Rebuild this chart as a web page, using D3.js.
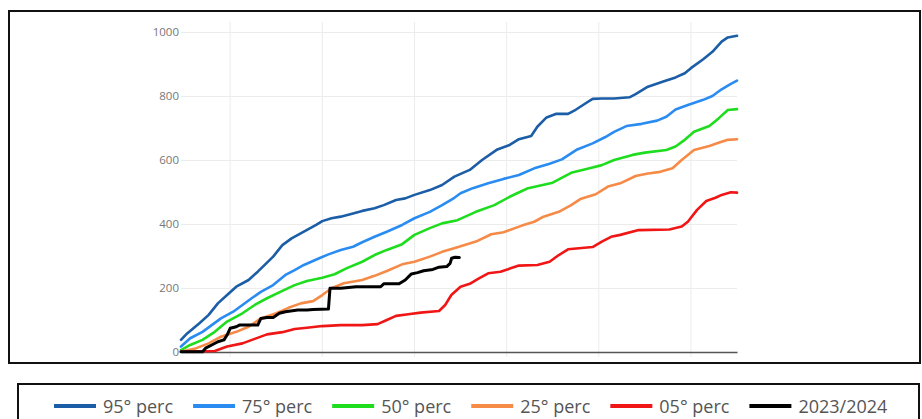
<!DOCTYPE html>
<html><head><meta charset="utf-8">
<script src="https://cdn.jsdelivr.net/npm/d3@7"></script>
<style>body{margin:0;background:#fff;overflow:hidden}</style>
</head><body>
<svg id="chart" width="922" height="419"></svg>
<script>
// ---- data (x = day of season, y = cumulative value) ----
const seriesNames = ["95° perc", "75° perc", "50° perc", "25° perc", "05° perc", "2023/2024"];
const yTicks = [0, 200, 400, 600, 800, 1000];
const xGrid = [16, 46, 76, 106, 136, 166];
const xDomain = [0, 181];

const p95 = [[0,38],[2,58],[6,90],[9,116],[12,152],[15,178],[18,204],[22,225],[25,251],[30,298],[33,334],[36,355],[40,376],[44,397],[46,409],[49,418],[52,423],[56,433],[59,441],[63,449],[66,459],[70,475],[73,480],[76,491],[81,506],[85,522],[89,548],[94,569],[98,600],[103,633],[107,647],[110,665],[114,675],[116,704],[119,733],[122,744],[126,744],[128,754],[132,779],[134,791],[137,792],[141,792],[146,796],[148,806],[152,829],[157,845],[161,858],[164,871],[166,887],[170,915],[173,938],[176,970],[178,983],[181,988]];
const p75 = [[0,17],[3,43],[7,63],[10,84],[13,105],[17,126],[20,147],[23,168],[26,188],[30,209],[32,225],[34,241],[37,256],[40,272],[45,293],[48,305],[52,319],[56,329],[59,343],[63,360],[67,376],[72,397],[76,418],[81,438],[85,459],[89,482],[91,496],[95,512],[100,527],[105,541],[110,553],[115,574],[120,588],[124,602],[129,633],[134,652],[138,671],[141,688],[145,706],[150,713],[155,723],[158,735],[161,758],[165,772],[170,788],[173,800],[176,821],[179,838],[181,848]];
const p50 = [[0,6],[3,22],[7,38],[11,63],[15,95],[20,121],[24,147],[28,168],[33,191],[37,209],[41,222],[46,232],[50,243],[54,262],[59,282],[63,303],[67,319],[72,337],[76,366],[81,387],[85,402],[90,412],[96,438],[102,459],[107,485],[111,503],[113,512],[121,529],[127,560],[133,574],[137,584],[141,600],[147,616],[151,623],[158,631],[161,642],[164,663],[167,688],[172,706],[175,730],[178,756],[181,759]];
const p25 = [[0,1],[5,12],[9,27],[13,48],[18,63],[22,79],[26,105],[31,121],[35,138],[39,152],[43,159],[46,178],[49,199],[53,215],[59,225],[63,238],[67,253],[72,274],[76,282],[81,298],[85,313],[90,327],[96,345],[101,368],[105,374],[111,395],[115,407],[118,423],[123,438],[127,459],[130,478],[135,493],[139,517],[143,527],[148,550],[152,558],[156,563],[160,574],[163,600],[167,631],[172,644],[175,654],[178,663],[181,665]];
const p05 = [[0,1],[11,3],[15,17],[20,27],[24,41],[28,55],[33,62],[37,72],[41,76],[46,81],[52,84],[59,84],[64,87],[67,100],[70,113],[74,118],[78,123],[84,128],[86,147],[88,178],[91,204],[94,213],[97,230],[100,246],[104,251],[110,270],[116,272],[120,282],[123,303],[126,321],[134,328],[137,345],[140,360],[143,366],[149,381],[159,383],[163,392],[165,407],[168,444],[171,472],[174,482],[176,491],[179,499],[181,498]];
const s2324 = [[0,1],[7,1],[8,12],[10,22],[12,32],[14,38],[15,53],[16,74],[18,79],[19,84],[25,84],[26,105],[28,108],[30,108],[32,121],[34,126],[38,131],[41,131],[43,133],[48,134],[48.5,199],[52,199],[57,204],[65,204],[66,213],[71,213],[73,225],[75,244],[77,248],[79,254],[82,258],[84,265],[86.5,267],[87.6,277],[88.1,293],[89.2,296],[90.6,295]];

const seriesData = [p95, p75, p50, p25, p05, s2324];
const colors = ["#1b5da6", "#2a8cf0", "#1edc1e", "#f68a47", "#f01616", "#000000"];
const widths = [2.6, 2.6, 2.6, 2.6, 2.6, 3];

// ---- drawing ----
const svg = d3.select("#chart");
const x = d3.scaleLinear().domain(xDomain).range([181, 737]);
const y = d3.scaleLinear().domain([0, 1000]).range([352, 32]);

// outer chart box
svg.append("rect").attr("x", 9).attr("y", 11).attr("width", 911).attr("height", 352)
  .attr("fill", "none").attr("stroke", "#111").attr("stroke-width", 2);

// vertical grid
svg.append("g").selectAll("line").data(xGrid).join("line")
  .attr("x1", d => x(d)).attr("x2", d => x(d)).attr("y1", 22).attr("y2", 357)
  .attr("stroke", "#ececec").attr("stroke-width", 1);

// horizontal grid + y labels via axis
const yAxis = d3.axisLeft(y).tickValues(yTicks).tickSize(-(737 - 181)).tickPadding(2).tickFormat(d3.format("d"));
const gy = svg.append("g").attr("transform", "translate(181,0)").call(yAxis);
gy.select(".domain").remove();
gy.selectAll(".tick line").attr("stroke", "#ececec").attr("stroke-width", 1);
gy.selectAll(".tick text").attr("fill", "#777").style("font-family", "'Open Sans', 'DejaVu Sans', sans-serif").style("font-size", "11.5px");
gy.selectAll(".tick").filter(d => d === 0).select("line").remove();

// x axis baseline
const xAxis = d3.axisBottom(x).tickValues([]).tickSize(0);
const gx = svg.append("g").attr("transform", "translate(0,352)").call(xAxis);
gx.select(".domain").attr("stroke", "#555").attr("stroke-width", 1.3);

// lines
const line = d3.line().x(d => x(d[0])).y(d => y(d[1]));
svg.append("g").selectAll("path").data(seriesData).join("path")
  .attr("d", d => line(d)).attr("fill", "none")
  .attr("stroke", (d, i) => colors[i]).attr("stroke-width", (d, i) => widths[i])
  .attr("stroke-linejoin", "round").attr("stroke-linecap", "round");

// legend box
svg.append("rect").attr("x", 18).attr("y", 384).attr("width", 901).attr("height", 60)
  .attr("fill", "none").attr("stroke", "#111").attr("stroke-width", 2);

const lg = svg.append("g");
let cx = 54;
seriesNames.forEach((name, i) => {
  lg.append("line").attr("x1", cx).attr("x2", cx + 42).attr("y1", 406).attr("y2", 406)
    .attr("stroke", colors[i]).attr("stroke-width", 4);
  const t = lg.append("text").attr("x", cx + 49).attr("y", 412.5).text(name)
    .attr("fill", "#555").style("font-family", "'Open Sans', Arial, sans-serif").style("font-size", "18px");
  const w = t.node().getComputedTextLength();
  cx = cx + 49 + w + 20;
});
</script>
</body></html>
